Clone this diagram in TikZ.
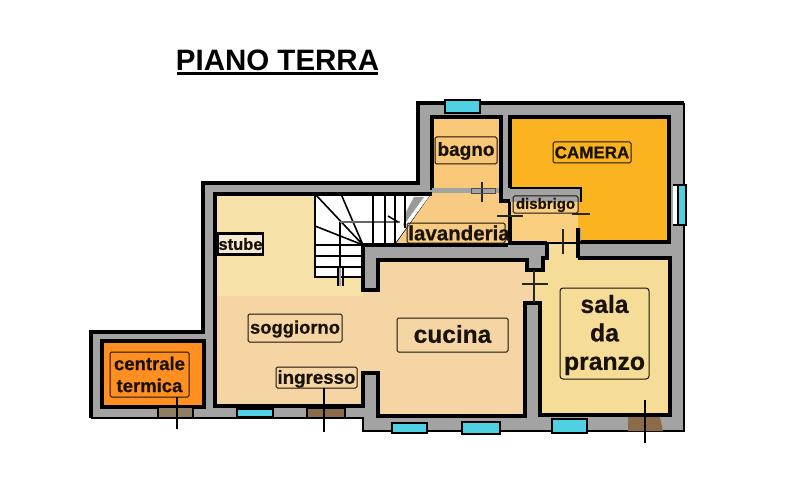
\documentclass[tikz,border=0pt]{standalone}
\usepackage{fontspec}
\setmainfont{Liberation Sans}
\newfontfamily\labfont{Liberation Sans Bold}[FakeBold=0.6]
\definecolor{wallc}{HTML}{A3A3A3}
\definecolor{camc}{HTML}{FBB31F}
\definecolor{bagc}{HTML}{F8C777}
\definecolor{lavc}{HTML}{F8CB82}
\definecolor{disc}{HTML}{FACF80}
\definecolor{salc}{HTML}{F5DC97}
\definecolor{cucc}{HTML}{F4D5A3}
\definecolor{uppc}{HTML}{F6E2A9}
\definecolor{cenc}{HTML}{FF8F20}
\definecolor{winc}{HTML}{4FD0E3}
\definecolor{doorc}{HTML}{8A6B4A}
\definecolor{doord}{HTML}{8E7E63}
\definecolor{stuc}{HTML}{F5EAD6}
\definecolor{inkc}{HTML}{1A1208}
\newcommand{\lab}[2]{{\fontsize{#1}{#1}\labfont #2}}
\tikzset{
  wall/.style={line width=3.4pt,black,line join=miter},
  thin stair/.style={line width=1.6pt,black},
  door mark/.style={line width=1.6pt,black!85},
  labelbox/.style={draw=inkc,line width=1pt,rounded corners=1.5pt,inner sep=0pt,align=center,text=inkc},
  labeltext/.style={inner sep=0pt,text=inkc,align=center},
  window/.style={fill=winc,draw=black,line width=1.8pt},
  brown door/.style={fill=doorc,draw=black,line width=1.4pt},
}
\begin{document}
\begin{tikzpicture}[x=1pt,y=-1pt]
\useasboundingbox[fill=white] (0,0) rectangle (800,497);
% outer shell
\fill[wallc] (418,103) -- (684,103) -- (684,431) -- (363,431) -- (363,418) -- (91,418) -- (91,332) -- (203,332) -- (203,183) -- (418,183) -- cycle;
\draw[wall] (684,103) -- (418,103) -- (418,183) -- (203,183) -- (203,332) -- (91,332) -- (91,418);
\draw[wall,line width=2.6pt] (684,103) -- (684,431) -- (363,431) -- (363,418) -- (91,418);
% centrale termica
\draw[wall,fill=cenc] (102,341) rectangle (204,407);
% main rooms
\fill[cucc] (215,194) -- (363,194) -- (363,290) -- (378,290) -- (378,260) -- (527,260) -- (527,270) -- (535,270) -- (535,303) -- (525,303) -- (525,416) -- (378,416) -- (378,373) -- (363,373) -- (363,406) -- (215,406) -- cycle;
\fill[uppc] (215,194) rectangle (363,296);
% sala
\fill[salc] (547,243) -- (577,243) -- (577,258) -- (670,258) -- (670,415) -- (540,415) -- (540,303) -- (535,303) -- (535,270) -- (543,270) -- (543,258) -- (547,258) -- cycle;
% stair
\fill[white] (315,194) rectangle (363,277);
\fill[white] (363,194) -- (432,194) -- (395,245) -- (363,245) -- cycle;
\fill[black!40] (414,197) -- (424,197) -- (403,226) -- (406,212) -- cycle;
\draw[thin stair] (315,194) -- (315,277) -- (363,277);
\draw[thin stair] (315,245) -- (363,245) (315,256) -- (363,256) (315,267) -- (363,267);
\draw[thin stair] (363,245) -- (315,194) (363,245) -- (341,194) (363,245) -- (315,226);
\draw[thin stair] (340,222) -- (340,277);
\draw[line width=2pt,black!60] (340,222) -- (400,222);
\draw[thin stair,line width=2pt] (373,194) -- (373,245) (385,194) -- (385,245) (395,194) -- (395,245) (405,194) -- (405,228);
\draw[thin stair] (395,245) -- (432,194);
\draw[thin stair] (388,216) -- (398,222);
\draw[line width=2pt,black] (337.5,268) -- (337.5,286) (343,268) -- (343,286);
\draw[line width=1.4pt,wallc] (340,268) -- (340,286);
% lavanderia and bagno
\fill[lavc] (432,193) -- (505,193) -- (510,201) -- (510,245) -- (395,245) -- cycle;
\draw[wall,fill=bagc] (432,190) -- (432,117) -- (501,117) -- (501,190);
\fill[wallc] (432,188) rectangle (501,193);
% camera and disbrigo
\draw[wall,fill=camc] (510,117) rectangle (669,242);
\fill[wallc] (508,188) rectangle (581,202);
\draw[wall,line width=2.4pt] (510,188) -- (581,188) -- (581,202);
\fill[disc] (511,202) rectangle (578,242);
\fill[wallc] (578,228) rectangle (581,241);
% partition wall between bagno, lavanderia and camera
\fill[wallc] (501,117) rectangle (509,201);
\draw[wall] (501,117) -- (501,201) -- (510,201);
\draw[wall] (510,117) -- (510,188);
\draw[wall] (578,228) -- (578,258) (510,217) -- (510,243) -- (547,243);
\fill[salc] (549,244.7) rectangle (576.3,258);
% wall lines
\draw[wall] (363,194) -- (215,194) -- (215,406) -- (363,406) -- (363,373) -- (378,373) -- (378,416) -- (525,416) -- (525,303) -- (540,303) -- (540,415) -- (670,415) -- (670,258) -- (578,258);
\draw[wall] (363,194) -- (432,194);
\draw[wall] (363,245) -- (363,290) -- (378,290) -- (378,260) -- (527,260) -- (527,270) -- (543,270) -- (543,258) -- (547,258) -- (547,243);
\draw[wall] (363,245) -- (508,245);
% doors
\draw[door mark] (482,182) -- (482,202) (497,216) -- (523,216) (572,214) -- (590,214) (563,229) -- (563,254) (522,284) -- (548,284) (534,270) -- (534,303);
\draw[line width=.8pt,black!70] (471,188.5) rectangle (495,193);
% windows
\draw[window] (445,113) -- (445,100) -- (480,100) -- (480,113) -- cycle;
\fill[white] (673,185) rectangle (678,225);
\draw[window] (678,185) rectangle (686,225);
\draw[line width=1.6pt,black] (673,185) -- (678,185) (673,225) -- (678,225);
\draw[window] (237,409) rectangle (273,417);
\draw[window] (392,423) rectangle (427,433);
\draw[window] (462,422) rectangle (500,434);
\draw[window] (552,419) rectangle (587,433);
\draw[brown door,fill=doord] (158,407) rectangle (193,418);
\draw[brown door] (307,408) rectangle (345,418);
\draw[brown door,draw=none] (628,417) -- (660,417) -- (663,431) -- (628,431) -- cycle;
\draw[line width=1.6pt,black] (177,397) -- (177,429) (324,388) -- (324,432) (645,400) -- (645,443);
% title
\node[font=\bfseries,inner sep=0pt,text=black] (title) at (277.5,60) {\fontsize{29.5}{29.5}\selectfont PIANO TERRA};
\coordinate (ula) at (177,73.5);
\coordinate (ulb) at (378,73.5);
\draw[line width=3pt,black] (ula) -- (ulb);
% labels
\node[labelbox,minimum width=62pt,minimum height=27pt] (bagnobox) at (466,150.5) {};
\node[labeltext] (bagno) at (466,151) {\lab{19}{bagno}};
\node[labelbox,minimum width=78pt,minimum height=21pt] (camerabox) at (592,152.5) {};
\node[labeltext] (camera) at (592,152.5) {\lab{17}{CAMERA}};
\node[labelbox,minimum width=65pt,minimum height=17pt] (disbrigobox) at (545.5,204.5) {};
\node[labeltext] (disbrigo) at (545.5,205) {\lab{15}{disbrigo}};
\node[labelbox,minimum width=98pt,minimum height=20pt] (lavanderiabox) at (456,233) {};
\node[labeltext] (lavanderia) at (459,233) {\lab{20.5}{lavanderia}};
\node[labelbox,draw=black,line width=2.6pt,fill=stuc,rounded corners=0pt,minimum width=45pt,minimum height=21pt] (stube) at (240.5,244) {\lab{16.5}{stube}};
\node[labelbox,minimum width=94pt,minimum height=28pt] (soggiornobox) at (295,328) {};
\node[labeltext] (soggiorno) at (295,329) {\lab{18.4}{soggiorno}};
\node[labelbox,minimum width=81pt,minimum height=21pt] (ingressobox) at (316.5,377.5) {};
\node[labeltext] (ingresso) at (316.5,379) {\lab{18.7}{ingresso}};
\node[labelbox,minimum width=79pt,minimum height=45pt] (centralebox) at (149.5,374.5) {};
\node[labeltext,font=\fontsize{22}{22}\selectfont] (centrale) at (149.5,374.5) {\lab{18.5}{centrale}\\\lab{18.5}{termica}};
\node[labelbox,minimum width=111pt,minimum height=34pt] (cucinabox) at (452.5,335) {};
\node[labeltext] (cucina) at (452.5,334) {\lab{24.5}{cucina}};
\node[labelbox,rounded corners=3pt,minimum width=89pt,minimum height=91pt] (salabox) at (604.5,333.5) {};
\node[labeltext,font=\fontsize{28.5}{28.5}\selectfont] (sala) at (604.5,335) {\lab{24.7}{sala}\\\lab{24.7}{da}\\\lab{24.7}{pranzo}};
\end{tikzpicture}
\end{document}
